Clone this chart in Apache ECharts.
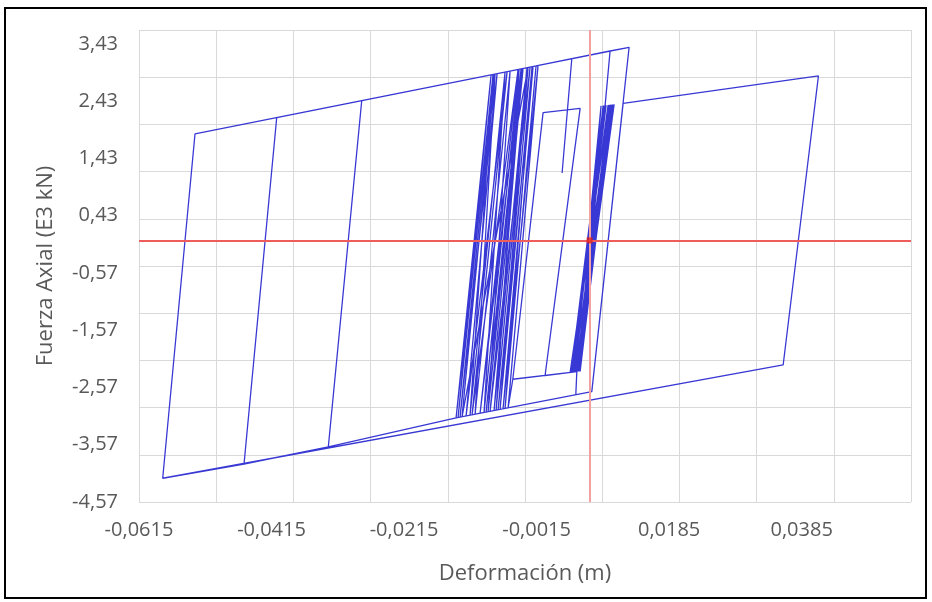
<!DOCTYPE html>
<html><head><meta charset="utf-8">
<script src="https://cdn.jsdelivr.net/npm/echarts@6/dist/echarts.min.js"></script>
<style>html,body{margin:0;padding:0;background:#fff}#c{width:932px;height:602px}</style>
</head><body><div id="c"></div>
<script>
const deformation = [0.00642, 0.00899, 0.00401, 0.00854, 0.00461, 0.00944, 0.00356, 0.00990, 0.00507, 0.00823,
  0.00431, 0.01020, 0.00476, 0.00884, 0.00386, 0.00929,
  0.00371, 0.00869, 0.00416, 0.00959, 0.00491, 0.00974, 0.00446, 0.01005,
  0.00457, 0.00442, 0.00457, -0.00022,
  0.00507, -0.00052, -0.00509, 0.00457, -0.00509, -0.00580, -0.00128, -0.00656, -0.00203, -0.00731,
  -0.00248, -0.00852, -0.00354, -0.00912, -0.00384, -0.01003, -0.00429, -0.01124, -0.00595, -0.01214,
  -0.00746, -0.01305, -0.00792, -0.01365, -0.00837, -0.01335, -0.00807, -0.01154, -0.00626, -0.00943,
  -0.00414, -0.00761, -0.00278,
  -0.01275, -0.00777, -0.01078, -0.00550, -0.00882, -0.00369, -0.00792, -0.00294, -0.00701, -0.00218, -0.00626, -0.00158,
  0.00381, 0.00235, 0.00381, 0.00959, 0.00884, 0.00959, 0.01246,
  0.00683, -0.01365, -0.03293, -0.02789, -0.00837, -0.01365, -0.03293, -0.04565, -0.04072, -0.00837,
  -0.01365, -0.03293, -0.04565, -0.05792, -0.05305, -0.02789, 0.01246, 0.00683, 0.01156, 0.04103,
  0.03571, -0.05792];
const force = [0, 2.360, -2.300, 2.354, -2.292, 2.367, -2.307, 2.372, -2.287, 2.350,
  -2.297, 2.376, -2.290, 2.358, -2.302, 2.364,
  -2.305, 2.356, -2.298, 2.369, -2.289, 2.370, -2.295, 2.374,
  -2.293, -2.692, -2.293, -2.360,
  2.306, 2.231, -2.426, -2.293, -2.426, -2.926, 3.057, -2.943, 3.039, -2.961,
  3.029, -2.987, 3.004, -3.001, 2.997, -3.022, 2.987, -3.048, 2.948, -3.069,
  2.913, -3.088, 2.903, -3.102, 2.893, -3.095, 2.900, -3.055, 2.941, -3.008,
  2.990, -2.968, 3.022,
  -3.083, 2.906, -3.038, 2.959, -2.994, 3.001, -2.975, 3.018, -2.954, 3.036, -2.936, 3.050,
  3.174, 1.177, 3.174, 3.308, 2.358, 3.308, 3.373,
  -2.643, -3.102, -3.609, 2.440, 2.893, -3.102, -3.609, -3.906, 2.143, 2.893,
  -3.102, -3.609, -3.906, -4.155, 1.859, 2.440, 3.373, -2.643, 2.395, 2.872,
  -2.176, -4.155];
const xTickLabels = [-0.0615, -0.0415, -0.0215, -0.0015, 0.0185, 0.0385];
const yTickLabels = [-4.57, -3.57, -2.57, -1.57, -0.57, 0.43, 1.43, 2.43, 3.43];
const markerX = 0.0065;
const markerY = 0;

const data = deformation.map((d, i) => [d, force[i]]);
const fmt = (n, dec) => n.toFixed(dec).replace('.', ',');
const labelStyle = {fontFamily: 'Open Sans', fontSize: 20, color: '#595959'};
const gridLine = {show: true, lineStyle: {color: '#d9d9d9', width: 1}};
const chart = echarts.init(document.getElementById('c'), null, {renderer: 'canvas'});
chart.setOption({
  animation: false,
  grid: {left: 139, right: 21, top: 30, bottom: 100, outerBoundsMode: 'none'},
  xAxis: [
    {type: 'value', min: -0.0615, max: 0.0550, position: 'bottom',
     axisLine: {show: false}, axisTick: {show: false}, splitLine: {show: false},
     axisLabel: Object.assign({customValues: xTickLabels, formatter: v => fmt(v, 4), margin: 18}, labelStyle),
     name: 'Deformación (m)', nameLocation: 'middle', nameGap: 61,
     nameTextStyle: {fontFamily: 'Open Sans', fontSize: 22, color: '#595959'}},
    {type: 'value', min: 0, max: 10, interval: 1, position: 'top',
     axisLine: {show: false}, axisTick: {show: false}, axisLabel: {show: false}, splitLine: gridLine}
  ],
  yAxis: [
    {type: 'value', min: -4.57, max: 3.675, position: 'left',
     axisLine: {show: false}, axisTick: {show: false}, splitLine: {show: false},
     axisLabel: Object.assign({customValues: yTickLabels, formatter: v => fmt(v, 2), margin: 21}, labelStyle),
     name: 'Fuerza Axial (E3 kN)', nameLocation: 'middle', nameGap: 82,
     nameTextStyle: {fontFamily: 'Open Sans', fontSize: 22, color: '#595959'}},
    {type: 'value', min: 0, max: 10, interval: 1, position: 'right',
     axisLine: {show: false}, axisTick: {show: false}, axisLabel: {show: false}, splitLine: gridLine}
  ],
  series: [
    {type: 'line', data: data, xAxisIndex: 0, yAxisIndex: 0, showSymbol: false, symbol: 'none',
     lineStyle: {color: '#3838d4', width: 1.3}, z: 3,
     markLine: {silent: true, symbol: 'none', label: {show: false}, animation: false, precision: 6,
       data: [
         {yAxis: markerY, lineStyle: {color: '#ee5c5c', width: 2, type: 'solid'}},
         {xAxis: markerX, lineStyle: {color: '#f2a0a0', width: 2, type: 'solid'}}
       ]}},
    {type: 'scatter', data: [[markerX, markerY]], xAxisIndex: 0, yAxisIndex: 0,
     symbol: 'rect', symbolSize: 6, itemStyle: {color: '#e02020'}, z: 5}
  ],
  graphic: [{type: 'rect', silent: true, shape: {x: 5, y: 8, width: 921, height: 590},
    style: {fill: 'none', stroke: '#000', lineWidth: 2}}]
});
</script></body></html>
